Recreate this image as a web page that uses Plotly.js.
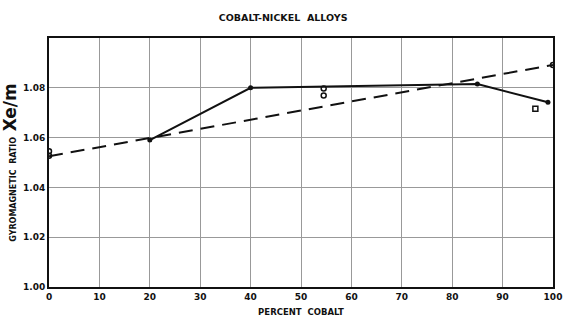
<!DOCTYPE html>
<html><head><meta charset="utf-8">
<script src="https://cdn.plot.ly/plotly-3.0.1.min.js"></script>
<style>html,body{margin:0;padding:0;background:#fff}#c{width:564px;height:324px}</style>
</head><body><div id="c"></div>
<script>
// Solid measured curve
const solidX = [20, 40, 85, 99];
const solidY = [1.059, 1.080, 1.0815, 1.0742];
// Dashed trend line
const dashX = [0, 100];
const dashY = [1.0525, 1.0892];
// Open circle observations
const circleX = [0, 0, 54.5, 54.5, 100];
const circleY = [1.0545, 1.0527, 1.0797, 1.0769, 1.0892];
// Open square observation
const squareX = [96.5];
const squareY = [1.0716];
// Ticks
const xTicks = [0, 10, 20, 30, 40, 50, 60, 70, 80, 90, 100];
const yTicks = [1.00, 1.02, 1.04, 1.06, 1.08, 1.10];
const yTickText = ["1.00", "1.02", "1.04", "1.06", "1.08", ""];

const font = {family: "DejaVu Sans, sans-serif", color: "#111"};
const traces = [
  {x: dashX, y: dashY, mode: "lines", line: {color: "#111", width: 2, dash: "14px,8px"}, hoverinfo: "skip"},
  {x: solidX, y: solidY, mode: "lines+markers", line: {color: "#111", width: 2},
   marker: {color: "#111", size: 5}},
  {x: circleX, y: circleY, mode: "markers",
   marker: {symbol: "circle-open", color: "#111", size: 5, line: {width: 1.5}}},
  {x: squareX, y: squareY, mode: "markers",
   marker: {symbol: "square-open", color: "#111", size: 5, line: {width: 1.5}}}
];
const layout = {
  width: 564, height: 324,
  margin: {l: 49, r: 11, t: 38, b: 37},
  paper_bgcolor: "#fff", plot_bgcolor: "#fff",
  showlegend: false,
  title: {text: "<b>COBALT-NICKEL  ALLOYS</b>", font: Object.assign({size: 9.5}, font),
          x: 0.502, xanchor: "center", y: 0.945, yanchor: "middle"},
  xaxis: {range: [0, 100], tickvals: xTicks, ticktext: xTicks.map(String),
          showline: true, mirror: true, linecolor: "#111", linewidth: 2,
          showgrid: true, gridcolor: "#999", gridwidth: 1, zeroline: false,
          ticks: "", ticklen: 0,
          tickfont: Object.assign({size: 9, weight: "bold"}, font),
          title: {text: "<b>PERCENT  COBALT</b>", font: Object.assign({size: 8.5}, font), standoff: 8}},
  yaxis: {range: [1.0, 1.10], tickvals: yTicks, ticktext: yTickText,
          showline: true, mirror: true, linecolor: "#111", linewidth: 2,
          showgrid: true, gridcolor: "#999", gridwidth: 1, zeroline: false,
          ticks: "", ticklen: 0,
          tickfont: Object.assign({size: 9, weight: "bold"}, font),
          title: {text: "<b>GYROMAGNETIC  RATIO  <span style='font-size:17px'>Xe/m</span></b>",
                  font: Object.assign({size: 8}, font), standoff: 6}}
};
Plotly.newPlot("c", traces, layout, {displayModeBar: false, staticPlot: true});
</script></body></html>
